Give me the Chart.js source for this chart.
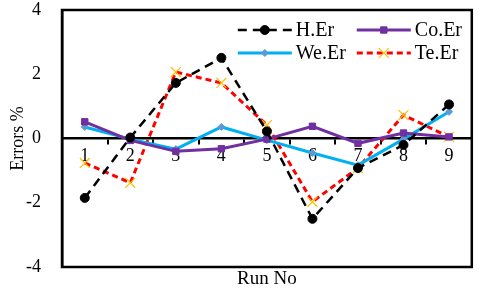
<!DOCTYPE html>
<html>
<head>
<meta charset="utf-8">
<script src="https://cdn.jsdelivr.net/npm/chart.js@4/dist/chart.umd.min.js"></script>
<style>
html,body{margin:0;padding:0;background:#fff;}
#wrap{width:480px;height:292px;}
</style>
</head>
<body>
<div id="wrap"><canvas id="c" width="480" height="292"></canvas></div>
<script>
const categories = ['1','2','3','4','5','6','7','8','9'];
const hEr  = [-1.85, 0.03, 1.73, 2.51, 0.22, -2.50, -0.92, -0.20, 1.06];
const coEr = [0.52, -0.06, -0.40, -0.32, -0.02, 0.38, -0.15, 0.17, 0.05];
const weEr = [0.36, -0.02, -0.33, 0.36, -0.05, -0.45, -0.83, -0.02, 0.83];
const teEr = [-0.76, -1.38, 2.07, 1.73, 0.42, -1.97, -0.92, 0.73, 0.05];
const yTicks = [-4, -2, 0, 2, 4];

const serif = "'Liberation Serif', 'DejaVu Serif', serif";

const framePlugin = {
  id: 'frame',
  afterDraw(chart) {
    const a = chart.chartArea, ctx = chart.ctx;
    ctx.save();
    ctx.strokeStyle = '#000';
    ctx.lineWidth = 2.5;
    ctx.strokeRect(a.left, a.top, a.right - a.left, a.bottom - a.top);
    ctx.restore();
  }
};

const legendPlugin = {
  id: 'innerLegend',
  afterDraw(chart) {
    const ctx = chart.ctx;
    const a = chart.chartArea;
    const cols = [a.right - 234, a.right - 115];
    const rows = [a.top + 20, a.top + 43];
    const lineLen = 54;
    chart.data.datasets.forEach((ds, i) => {
      const x0 = cols[i % 2], y = rows[Math.floor(i / 2)];
      ctx.save();
      ctx.strokeStyle = ds.borderColor;
      ctx.lineWidth = ds.borderWidth;
      ctx.setLineDash(ds.borderDash || []);
      ctx.beginPath();
      ctx.moveTo(x0, y);
      ctx.lineTo(x0 + lineLen, y);
      ctx.stroke();
      ctx.setLineDash([]);
      ctx.fillStyle = ds.pointBackgroundColor;
      ctx.strokeStyle = ds.pointBorderColor;
      ctx.lineWidth = ds.pointBorderWidth;
      Chart.helpers.drawPoint(ctx, {
        pointStyle: ds.pointStyle,
        radius: ds.pointRadius,
        borderWidth: ds.pointBorderWidth
      }, x0 + lineLen / 2, y);
      ctx.fillStyle = '#000';
      ctx.font = '20px ' + serif;
      ctx.textBaseline = 'middle';
      ctx.textAlign = 'left';
      ctx.fillText(ds.label, x0 + lineLen + 4, y + 1);
      ctx.restore();
    });
  }
};

new Chart(document.getElementById('c'), {
  type: 'line',
  data: {
    labels: categories,
    datasets: [
      { label: 'H.Er', data: hEr, borderColor: '#000000', borderWidth: 2.5, borderDash: [9, 6],
        pointStyle: 'circle', pointRadius: 4.5, pointBackgroundColor: '#000', pointBorderColor: '#000', pointBorderWidth: 1 },
      { label: 'Co.Er', data: coEr, borderColor: '#7030A0', borderWidth: 3,
        pointStyle: 'rect', pointRadius: 4.5, pointBackgroundColor: '#7030A0', pointBorderColor: '#7030A0', pointBorderWidth: 1 },
      { label: 'We.Er', data: weEr, borderColor: '#00B0F0', borderWidth: 3,
        pointStyle: 'rectRot', pointRadius: 3.5, pointBackgroundColor: '#5B9BD5', pointBorderColor: '#5B9BD5', pointBorderWidth: 1 },
      { label: 'Te.Er', data: teEr, borderColor: '#FF0000', borderWidth: 3, borderDash: [6, 4],
        pointStyle: 'crossRot', pointRadius: 7, pointBackgroundColor: '#FFC000', pointBorderColor: '#FFC000', pointBorderWidth: 1.2 }
    ]
  },
  options: {
    responsive: false,
    animation: false,
    devicePixelRatio: 1,
    layout: { padding: { left: 3, right: 8, top: 0, bottom: 1 } },
    elements: { line: { tension: 0 } },
    plugins: { legend: { display: false }, tooltip: { enabled: false } },
    scales: {
      x: {
        type: 'category',
        position: { y: 0 },
        offset: true,
        afterFit(scale) { scale.height = 0; },
        grid: { display: true, offset: true, drawOnChartArea: false, drawTicks: true, tickLength: 5, color: '#000', lineWidth: 2 },
        border: { display: true, color: '#000', width: 2.5 },
        ticks: { color: '#000', font: { family: serif, size: 18 }, padding: 2, maxRotation: 0, autoSkip: false }
      },
      x2: {
        type: 'category',
        position: 'bottom',
        offset: true,
        afterFit(scale) { scale.height = 24; },
        grid: { display: false },
        border: { display: false },
        ticks: { display: false },
        title: { display: true, text: 'Run No', color: '#000', font: { family: serif, size: 19 }, padding: { top: 1, bottom: 1 } }
      },
      y: {
        min: -4, max: 4,
        afterBuildTicks(scale) { scale.ticks = yTicks.map(v => ({ value: v })); },
        afterFit(scale) { scale.width = 59; scale.paddingTop = 10; scale.paddingBottom = 0; },
        grid: { display: false },
        border: { display: true, color: '#000', width: 2.5 },
        ticks: { color: '#000', font: { family: serif, size: 18 }, padding: 13 },
        title: { display: true, text: 'Errors %', color: '#000', font: { family: serif, size: 18 }, padding: { top: 4, bottom: 0 } }
      }
    }
  },
  plugins: [framePlugin, legendPlugin]
});
</script>
</body>
</html>
